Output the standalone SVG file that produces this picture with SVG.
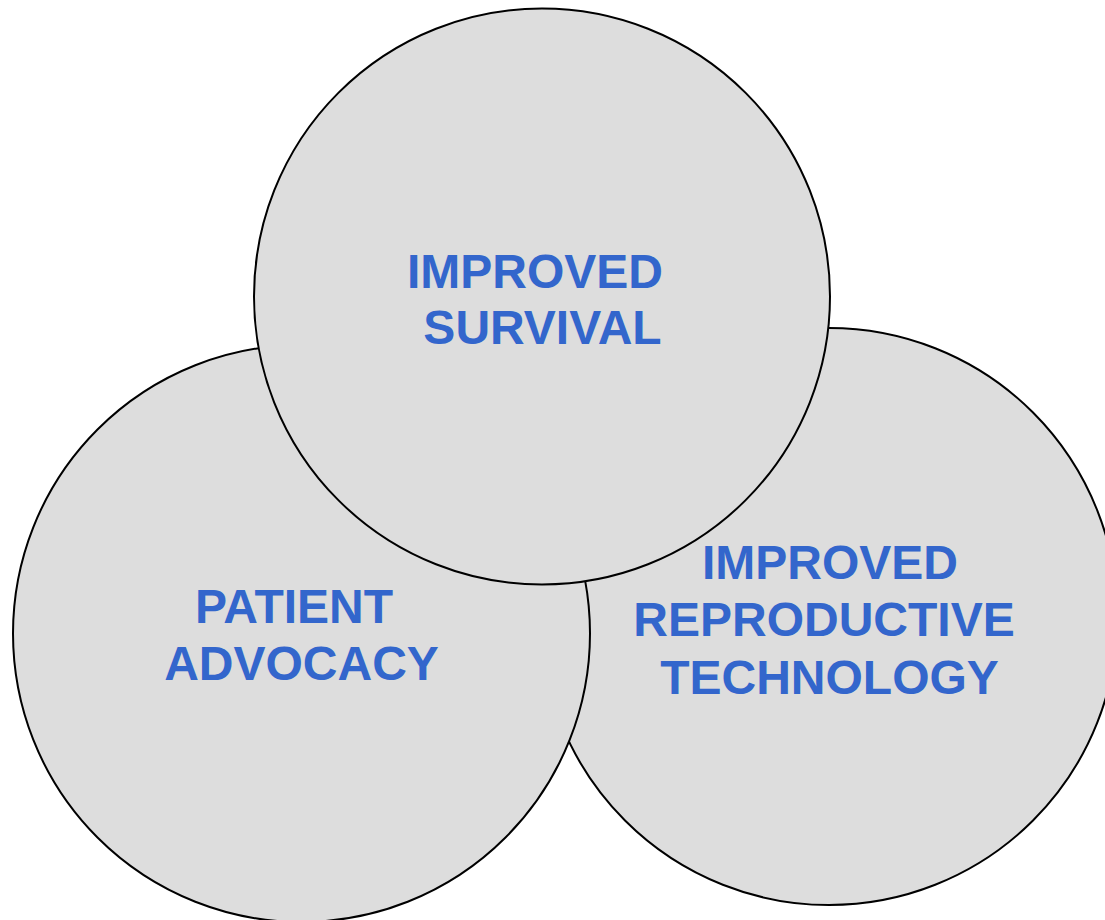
<svg xmlns="http://www.w3.org/2000/svg" width="1105" height="920" viewBox="0 0 1105 920">
<style>
.c{fill:#dddddd;stroke:#000;stroke-width:2}
.t{font-family:"Liberation Sans",Arial,sans-serif;font-weight:bold;font-size:48px;fill:#3366cc;text-anchor:middle}
</style>
<rect width="1105" height="920" fill="#fff"/>
<g id="right">
<circle class="c" cx="829" cy="616.5" r="288.5"/>
<text class="t"><tspan x="830" y="579">IMPROVED</tspan><tspan x="824" y="636">REPRODUCTIVE</tspan><tspan x="829.5" y="694">TECHNOLOGY</tspan></text>
</g>
<g id="left">
<circle class="c" cx="301.5" cy="633.5" r="288.5"/>
<text class="t"><tspan x="294" y="623">PATIENT</tspan><tspan x="301.5" y="680">ADVOCACY</tspan></text>
</g>
<g id="top">
<circle class="c" cx="542" cy="296.5" r="288"/>
<text class="t"><tspan x="535" y="288">IMPROVED</tspan><tspan x="542.5" y="344">SURVIVAL</tspan></text>
</g>
<g id="connectors"/>
</svg>
